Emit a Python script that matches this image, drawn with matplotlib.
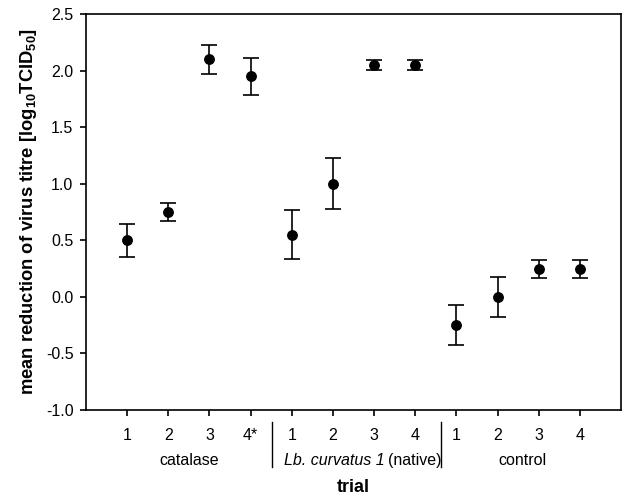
import matplotlib
matplotlib.use("Agg")
import matplotlib.pyplot as plt
import matplotlib.transforms as mtransforms

plt.rcParams['font.family'] = ['Liberation Sans', 'DejaVu Sans']
plt.rcParams['mathtext.fontset'] = 'custom'
plt.rcParams['mathtext.rm'] = 'Liberation Sans'
plt.rcParams['mathtext.bf'] = 'Liberation Sans:bold'
plt.rcParams['mathtext.it'] = 'Liberation Sans:italic'

tick_labels = ["1", "2", "3", "4*", "1", "2", "3", "4", "1", "2", "3", "4"]
groups = ["catalase", "Lb. curvatus 1", "control"]
means = [0.50, 0.75, 2.10, 1.95, 0.55, 1.00, 2.05, 2.05, -0.25, 0.00, 0.25, 0.25]
errors = [0.145, 0.08, 0.13, 0.165, 0.215, 0.225, 0.045, 0.045, 0.175, 0.175, 0.08, 0.08]

positions = list(range(1, len(means) + 1))

fig = plt.figure(figsize=(6.38, 4.96), dpi=100)
ax = fig.add_axes([86/638, 1 - 410/496, (621-86)/638, (410-14)/496])

ax.errorbar(positions, means, yerr=errors, fmt='o', color='black',
            markersize=6.8, capsize=5.5, elinewidth=1.2, capthick=1.2)

ax.set_xlim(0, 13)
ax.set_ylim(-1.0, 2.5)
ax.set_yticks([-1.0, -0.5, 0.0, 0.5, 1.0, 1.5, 2.0, 2.5])
ax.set_yticklabels(["-1.0", "-0.5", "0.0", "0.5", "1.0", "1.5", "2.0", "2.5"])
ax.set_xticks(positions)
ax.set_xticklabels(tick_labels)
ax.tick_params(direction='out', length=4, width=1.2, labelsize=11.5,
               top=False, right=False)
ax.tick_params(axis='x', pad=9)
ax.tick_params(axis='y', pad=5)
for sp in ax.spines.values():
    sp.set_linewidth(1.2)

ax.set_ylabel(r'mean reduction of virus titre [log$_{\mathbf{10}}$TCID$_{\mathbf{50}}$]',
              fontsize=13.2, fontweight='bold', labelpad=5)

trans = mtransforms.blended_transform_factory(ax.transData, ax.transAxes)
# group separators
for xs in [4.53, 8.63]:
    ax.plot([xs, xs], [-0.030, -0.144], transform=trans, color='black',
            lw=1.0, clip_on=False)

gy = -0.127
ax.text(2.5, gy, groups[0], transform=trans, ha='center', va='center', fontsize=11.5)
ax.text(7.25, gy, groups[1], transform=trans, ha='right', va='center',
        fontsize=11.5, style='italic')
ax.text(7.33, gy, "(native)", transform=trans, ha='left', va='center', fontsize=11.5)
ax.text(10.6, gy, groups[2], transform=trans, ha='center', va='center', fontsize=11.5)

ax.text(6.5, -0.195, "trial", transform=trans, ha='center', va='center',
        fontsize=13, fontweight='bold')

fig.savefig("out.png", dpi=100)
